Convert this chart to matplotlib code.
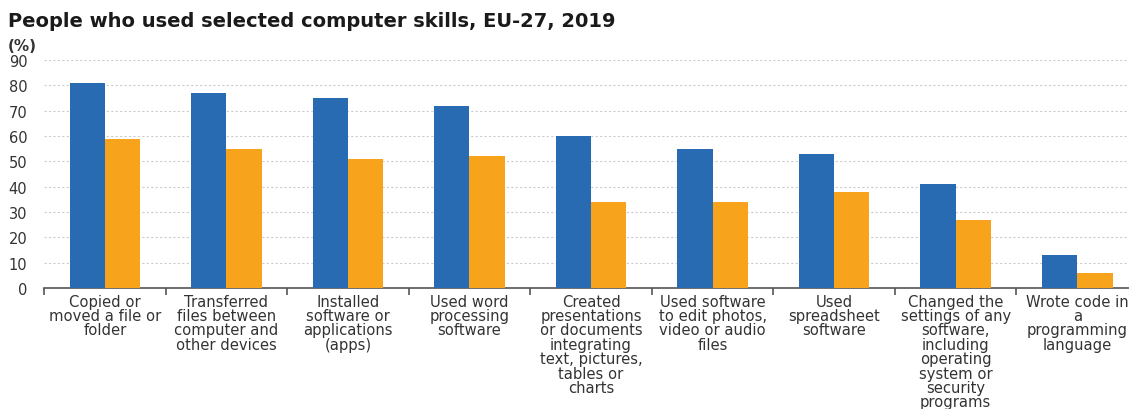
import matplotlib
matplotlib.use('Agg')
import matplotlib.pyplot as plt
import numpy as np

plt.rcParams['font.family'] = ['DejaVu Sans']

categories = [
    'Copied or\nmoved a file or\nfolder',
    'Transferred\nfiles between\ncomputer and\nother devices',
    'Installed\nsoftware or\napplications\n(apps)',
    'Used word\nprocessing\nsoftware',
    'Created\npresentations\nor documents\nintegrating\ntext, pictures,\ntables or\ncharts',
    'Used software\nto edit photos,\nvideo or audio\nfiles',
    'Used\nspreadsheet\nsoftware',
    'Changed the\nsettings of any\nsoftware,\nincluding\noperating\nsystem or\nsecurity\nprograms',
    'Wrote code in\na\nprogramming\nlanguage',
]
series_a = [81, 77, 75, 72, 60, 55, 53, 41, 13]
series_b = [59, 55, 51, 52, 34, 34, 38, 27, 6]

blue = '#286bb3'
orange = '#f7a31c'
text_col = '#333333'

fig = plt.figure(figsize=(11.29, 4.10), dpi=100)
ax = fig.add_axes([0.039, 0.295, 0.969, 0.556])

x = np.arange(len(categories))
w = 0.29
ax.bar(x - w / 2, series_a, w, color=blue, zorder=3)
ax.bar(x + w / 2, series_b, w, color=orange, zorder=3)

ax.set_xlim(-0.5, len(categories) - 0.5)
ax.set_ylim(0, 90)
ax.set_yticks(range(0, 91, 10))
ax.yaxis.grid(True, linestyle=(0, (2, 2)), color='#cccccc', linewidth=0.8, zorder=0)

for s in ['top', 'right', 'left']:
    ax.spines[s].set_visible(False)
ax.spines['bottom'].set_color('#555555')
ax.spines['bottom'].set_linewidth(1.2)

ax.set_xticks(x)
ax.set_xticklabels(categories, fontsize=10.6, color=text_col, linespacing=0.95, va='top')
ax.tick_params(axis='x', which='major', length=0, pad=4)
ax.set_xticks(np.arange(-0.5, len(categories), 1), minor=True)
ax.tick_params(axis='x', which='minor', length=5, color='#555555', width=1.2)
ax.tick_params(axis='y', length=0, labelsize=10.5, labelcolor=text_col, pad=12)

fig.text(0.007, 0.935, 'People who used selected computer skills, EU-27, 2019',
         fontsize=14, fontweight='bold', color='#1a1a1a', va='baseline')
fig.text(0.007, 0.875, '(%)', fontsize=11, fontweight='bold', color=text_col, va='baseline')

fig.savefig('out.png', dpi=100)
